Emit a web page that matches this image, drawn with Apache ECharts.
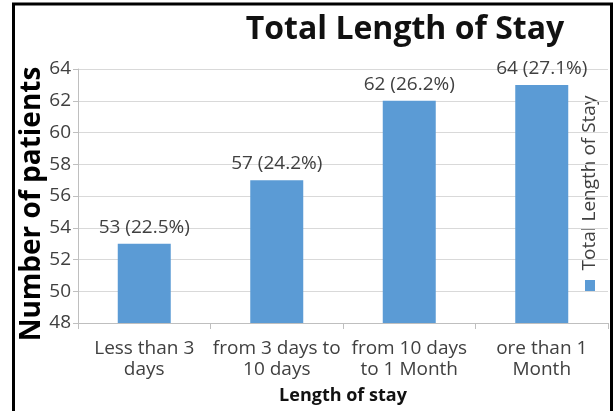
<!DOCTYPE html>
<html lang="en">
<head>
    <meta charset="UTF-8">
    <title>Total Length of Stay</title>
    <script src="https://cdn.jsdelivr.net/npm/echarts/dist/echarts.min.js"></script>
    <style>
        html, body { margin: 0; padding: 0; background: #fff; }
        #chart { width: 616px; height: 411px; }
    </style>
</head>
<body>
    <div id="chart"></div>
    <script>
        const categories = ['Less than 3\ndays', 'from 3 days to\n10 days', 'from 10 days\nto 1 Month', 'ore than 1\nMonth'];
        const patients = [53, 57, 62, 63];
        const barLabels = ['53 (22.5%)', '57 (24.2%)', '62 (26.2%)', '64 (27.1%)'];
        const seriesName = 'Total Length of Stay';

        const font = '"Open Sans", sans-serif';
        const myChart = echarts.init(document.getElementById('chart'));
        const option = {
            backgroundColor: '#fff',
            title: {
                text: 'Total Length of Stay',
                left: 400,
                top: 9,
                textAlign: 'center',
                textStyle: { fontFamily: font, fontSize: 32, fontWeight: 'bold', color: '#111' }
            },
            grid: { left: 78, right: 8, top: 69, bottom: 88 },
            xAxis: {
                type: 'category',
                data: categories,
                name: 'Length of stay',
                nameLocation: 'middle',
                nameGap: 64,
                nameTextStyle: { fontFamily: font, fontSize: 18, fontWeight: 'bold', color: '#111' },
                axisLine: { lineStyle: { color: '#bfbfbf' } },
                axisTick: { show: true, length: 6, lineStyle: { color: '#bfbfbf' } },
                axisLabel: { interval: 0, fontFamily: font, fontSize: 19, lineHeight: 21, color: '#404040', margin: 15 }
            },
            yAxis: {
                type: 'value',
                min: 48,
                max: 64,
                interval: 2,
                name: 'Number of patients',
                nameLocation: 'middle',
                nameGap: 32,
                nameMoveOverlap: false,
                nameTextStyle: { fontFamily: font, fontSize: 28, fontWeight: 'bold', color: '#000', padding: [0, 16, 0, 0] },
                axisLine: { show: true, lineStyle: { color: '#bfbfbf' } },
                axisTick: { show: true, length: 5, lineStyle: { color: '#bfbfbf' } },
                axisLabel: { fontFamily: font, fontSize: 19, color: '#404040', margin: 7 },
                splitLine: { lineStyle: { color: '#d9d9d9' } }
            },
            series: [{
                name: seriesName,
                type: 'bar',
                data: patients,
                barWidth: '40%',
                itemStyle: { color: '#5b9bd5' },
                label: {
                    show: true,
                    position: 'top',
                    distance: 7,
                    fontFamily: font,
                    fontSize: 19,
                    color: '#404040',
                    formatter: p => barLabels[p.dataIndex]
                }
            }],
            graphic: [
                {
                    type: 'rect',
                    shape: { x: 13.5, y: 4, width: 598, height: 420 },
                    style: { fill: null, stroke: '#000', lineWidth: 3 },
                    silent: true
                },
                {
                    type: 'rect',
                    shape: { x: 585, y: 280, width: 10, height: 11 },
                    style: { fill: '#5b9bd5' }
                },
                {
                    type: 'text',
                    x: 590,
                    y: 183,
                    rotation: Math.PI / 2,
                    style: {
                        text: seriesName,
                        fontFamily: font,
                        fontSize: 19,
                        fill: '#404040',
                        align: 'center',
                        verticalAlign: 'middle'
                    }
                }
            ]
        };
        myChart.setOption(option);
    </script>
</body>
</html>
